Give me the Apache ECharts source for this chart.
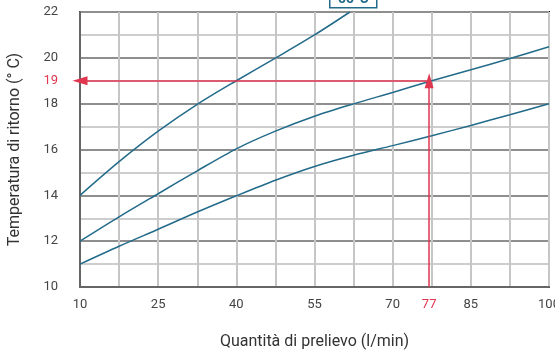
<!DOCTYPE html>
<html>
<head>
<meta charset="utf-8">
<script src="https://cdn.jsdelivr.net/npm/echarts@6/dist/echarts.min.js"></script>
<style>
html,body{margin:0;padding:0;background:#fff;}
#c{width:555px;height:351px;}
</style>
</head>
<body>
<div id="c"></div>
<script>
// Data
const xTickLabels = [10, 25, 40, 55, 70, 77, 85, 100];
const yTickLabels = [10, 12, 14, 16, 18, 19, 20, 22];
const curveA = [[10,14],[17.5,15.47],[25,16.8],[32.5,17.97],[40,19.0],[47.5,19.99],[55,21.0],[61.8,22]];
const curveB = [[10,12],[17.5,13.06],[25,14.07],[32.5,15.07],[40,16.03],[47.5,16.8],[55,17.45],[62.5,17.99],[70,18.49],[77.5,19.0],[85,19.48],[92.5,19.97],[100,20.48]];
const curveC = [[10,11],[17.5,11.78],[25,12.52],[32.5,13.27],[40,13.98],[47.5,14.66],[55,15.26],[62.5,15.75],[70,16.17],[77.5,16.6],[85,17.05],[92.5,17.52],[100,18.0]];
const readFlow = 77;
const readTemp = 19;
const boxLabel = '55°C';
const xTitle = 'Quantità di prelievo (l/min)';
const yTitle = 'Temperatura di ritorno (° C)';

const X0 = 10; // axis offset so ticks start at a multiple of the interval
const shift = pts => pts.map(p => [p[0] - X0, p[1]]);

const teal = '#236b8a';
const red = '#e0364f';
const font = 'Roboto, "DejaVu Sans", sans-serif';

const chart = echarts.init(document.getElementById('c'), null, {renderer: 'canvas'});
const lineSeries = (data) => ({
  type: 'line', data: shift(data), smooth: 0.3, symbol: 'none',
  lineStyle: {color: teal, width: 1.5}, z: 3, silent: true
});

chart.setOption({
  animation: false,
  grid: {left: 80, right: 6, top: 12, bottom: 64, outerBoundsMode: 'none', containLabel: false,
         show: true, borderColor: '#111', borderWidth: 2, backgroundColor: 'transparent'},
  xAxis: {
    type: 'value', min: 0, max: 90, interval: 7.5,
    name: xTitle, nameLocation: 'middle', nameGap: 47,
    nameTextStyle: {fontFamily: font, fontSize: 16, color: '#333'},
    axisLine: {show: true, lineStyle: {color: '#666', width: 2}},
    axisTick: {show: false},
    axisLabel: {
      customValues: xTickLabels.map(v => v - X0),
      formatter: v => String(Math.round(v + X0)),
      color: v => (Math.round(Number(v) + X0) === readFlow ? red : '#444'),
      fontFamily: font, fontSize: 13, margin: 11
    },
    splitLine: {show: true, lineStyle: {color: '#c6c6c6', width: 2}}
  },
  yAxis: {
    type: 'value', min: 10, max: 22, interval: 1,
    name: yTitle, nameLocation: 'middle', nameGap: 57, nameRotate: 90,
    nameTextStyle: {fontFamily: font, fontSize: 16, color: '#333'},
    axisLine: {show: true, lineStyle: {color: '#666', width: 2}},
    axisTick: {show: false},
    axisLabel: {
      customValues: yTickLabels,
      formatter: v => String(v),
      color: v => (Number(v) === readTemp ? red : '#444'),
      fontFamily: font, fontSize: 13, margin: 22
    },
    splitLine: {show: true, lineStyle: {color: ['#8e8e8e', '#cdcdcd'], width: 2}}
  },
  graphic: [{
    type: 'group', left: 329, top: -13, z: 10,
    children: [
      {type: 'rect', shape: {x: 0, y: 0, width: 47, height: 20}, style: {fill: '#fff', stroke: teal, lineWidth: 1.5}},
      {type: 'text', x: 23.5, y: 12, style: {text: boxLabel, fill: teal, font: 'bold 14px ' + font, align: 'center', verticalAlign: 'middle'}}
    ]
  }],
  series: [
    lineSeries(curveA),
    lineSeries(curveB),
    lineSeries(curveC),
    {
      type: 'line', data: [], silent: true,
      markLine: {
        silent: true, animation: false,
        symbol: ['none', 'triangle'], symbolSize: [9, 15],
        lineStyle: {color: red, width: 1.5, type: 'solid'},
        label: {show: false},
        data: [
          [{coord: [readFlow - X0, readTemp]}, {coord: [0, readTemp]}],
          [{coord: [readFlow - X0, 10]}, {coord: [readFlow - X0, readTemp]}]
        ]
      },
      z: 4
    }
  ]
});
</script>
</body>
</html>
